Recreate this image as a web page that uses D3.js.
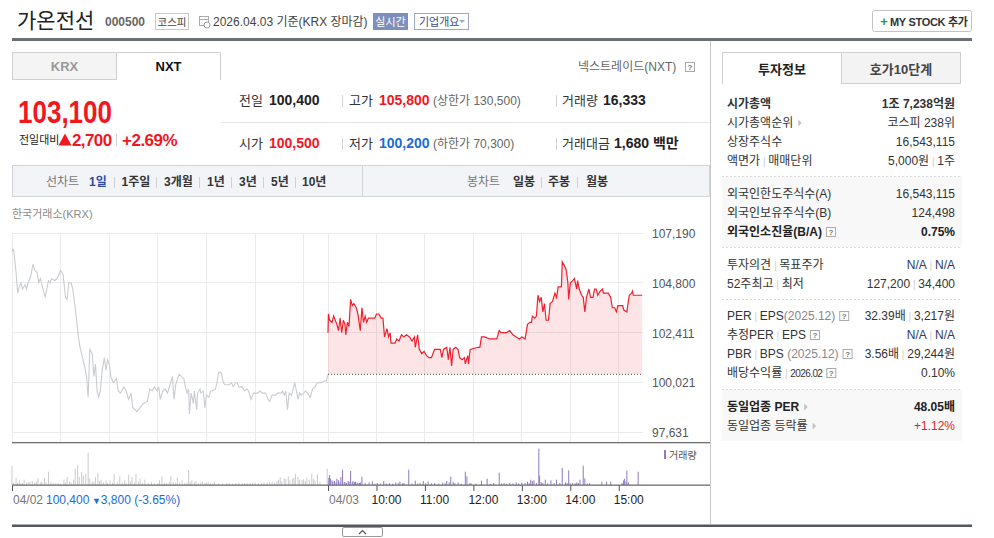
<!DOCTYPE html>
<html><head><meta charset="utf-8">
<script src="https://cdn.jsdelivr.net/npm/d3@7"></script>
<style>body{margin:0;background:#fff}svg{display:block}</style>
</head><body>
<svg id="c" width="994" height="538"></svg>
<script>
// ---------- DATA ----------
const prevClose = 100400;
const priceTicks = [97631, 100021, 102411, 104800, 107190];
const axisTicks = [0, 390, 450, 510, 570, 630, 690, 750];
const axisLabels = ["04/02", "04/03", "10:00", "11:00", "12:00", "13:00", "14:00", "15:00"];
// 04/02 (minutes after 09:00, price)
const prevDay = [[0,106300],[1,106400],[2,106400],[5,105300],[7,104300],[9,104600],[11,104800],[13,104500],[16,104700],[18,104500],[20,104800],[23,105100],[24,105300],[26,105700],[28,105400],[31,105300],[33,104800],[35,105000],[37,104700],[41,104100],[43,104500],[45,104900],[47,104800],[49,105000],[53,104900],[57,105100],[60,105400],[63,105200],[66,104100],[68,104000],[70,104800],[73,104800],[75,104500],[78,103600],[80,102900],[82,102200],[84,101700],[87,101200],[89,100900],[92,100300],[94,99300],[96,101600],[99,101400],[101,100300],[103,100900],[105,99600],[107,99300],[109,99600],[111,100500],[114,101200],[116,100600],[118,101100],[120,100900],[122,100300],[125,100000],[129,100200],[131,99600],[134,99500],[138,99800],[141,99600],[144,99200],[147,99500],[149,98800],[152,98700],[154,98600],[158,98800],[162,99000],[167,99100],[170,99700],[173,99600],[176,99800],[179,99600],[181,99800],[183,99200],[186,99600],[189,99700],[192,99500],[195,99900],[198,100300],[200,99200],[202,99900],[206,100400],[209,100300],[212,100200],[214,99800],[216,99500],[218,99700],[219,98500],[221,99500],[224,99000],[225,99600],[228,98700],[229,99500],[232,99700],[233,99500],[236,99600],[238,98800],[240,99400],[243,99300],[245,99600],[247,99600],[251,99700],[253,100000],[255,100500],[258,100500],[261,100000],[263,99900],[268,99900],[271,100000],[273,99800],[276,100000],[278,100000],[280,99800],[284,99800],[287,99600],[290,99700],[292,99600],[295,99200],[298,99500],[303,99500],[306,99600],[309,99500],[313,99500],[316,99200],[318,99100],[321,99400],[325,99400],[328,99500],[332,99500],[334,99600],[336,99400],[338,99600],[340,98700],[342,99500],[345,99400],[347,99700],[349,100000],[351,99600],[353,99200],[355,99500],[357,99400],[360,99500],[362,99600],[365,99500],[368,99300],[371,99700],[374,99800],[377,100000],[381,100000],[388,100100],[390,100400]];
// 04/03 (minutes after 09:00, price)
const today = [[0,102400],[0.5,103300],[2,103000],[5,102900],[7,103200],[9,103000],[11,102800],[13,102500],[15,103100],[17,102400],[19,103000],[21,102800],[22,102300],[24,102900],[26,102700],[28,104000],[30,103700],[32,103800],[35,103600],[37,103300],[40,102500],[42,103600],[44,102900],[46,103200],[48,102900],[50,103100],[54,103100],[58,103100],[60,103300],[63,103300],[66,103100],[68,103100],[70,102200],[73,102600],[75,102200],[77,102400],[78,101900],[83,101900],[85,102100],[88,102000],[91,102300],[94,102200],[97,102300],[101,102200],[104,102000],[107,102200],[108,101700],[111,102300],[113,101600],[116,101400],[119,101500],[122,101300],[125,101200],[128,101200],[132,101600],[139,101600],[141,101200],[143,101600],[147,101700],[149,101100],[151,101700],[153,100800],[155,101600],[158,101700],[161,101600],[163,101200],[166,101100],[169,101200],[170,100900],[173,101300],[174,100900],[176,101600],[186,101700],[188,101700],[190,102200],[194,102200],[200,102100],[202,102100],[209,102100],[212,102500],[214,102400],[216,102400],[221,102400],[225,102500],[229,102300],[233,102200],[237,102100],[240,102200],[244,102100],[247,102800],[250,102900],[252,102900],[253,103200],[256,103100],[258,103200],[260,104200],[262,103900],[264,104100],[266,103400],[268,103800],[270,103000],[273,103000],[275,103800],[278,103900],[281,104300],[283,104100],[285,104600],[289,104600],[290,105800],[293,105600],[295,105400],[297,104800],[298,104000],[300,104800],[303,104900],[305,105000],[308,104500],[309,104900],[311,104500],[314,104200],[316,104100],[318,103400],[320,104100],[323,104500],[325,104100],[328,104100],[330,104500],[332,104500],[334,104200],[337,104400],[340,104500],[341,104300],[347,104300],[350,104100],[352,103600],[355,103600],[357,103400],[359,103700],[365,103700],[366,103500],[370,103400],[373,104200],[376,104300],[377,104400],[378,104200],[384,104200],[389,104200]];
// volume (minute, shares)
const prevVol = [[0,570],[2,80],[5,220],[7,60],[9,140],[11,50],[13,60],[15,160],[18,70],[20,80],[22,90],[25,120],[28,70],[30,100],[32,200],[35,80],[37,100],[40,220],[42,90],[45,400],[48,90],[51,60],[54,50],[57,60],[60,40],[64,160],[66,80],[68,240],[71,100],[73,80],[76,160],[78,490],[81,590],[83,240],[86,390],[88,290],[91,340],[94,970],[96,190],[99,100],[101,80],[103,240],[106,360],[108,120],[110,160],[113,80],[116,140],[118,60],[121,140],[124,70],[126,340],[130,90],[133,260],[136,80],[139,140],[141,70],[144,310],[146,100],[148,240],[151,80],[153,340],[156,90],[158,200],[161,70],[164,160],[168,60],[172,90],[176,50],[180,60],[182,140],[185,260],[188,80],[191,60],[194,100],[196,260],[199,90],[202,70],[204,220],[207,80],[210,140],[213,60],[216,80],[218,440],[220,90],[222,140],[225,80],[227,120],[230,60],[233,80],[235,100],[238,60],[240,70],[242,80],[245,60],[248,50],[250,100],[255,50],[260,40],[265,60],[268,60],[272,50],[276,60],[280,70],[284,50],[287,60],[290,70],[294,60],[297,70],[300,80],[304,60],[308,70],[311,80],[315,70],[318,90],[321,100],[324,80],[327,120],[329,160],[331,240],[333,120],[336,200],[338,180],[341,260],[343,140],[346,190],[348,220],[350,340],[353,240],[355,160],[358,140],[360,180],[362,120],[364,220],[367,160],[370,340],[372,180],[374,140],[377,320],[380,100],[389,490]];
const todayVol = [[1,220],[2,300],[3,190],[5,140],[6,100],[8,120],[10,80],[11,190],[13,140],[15,90],[16,240],[18,460],[20,80],[21,90],[23,60],[25,120],[26,100],[28,420],[30,80],[31,120],[33,90],[34,100],[36,70],[37,60],[39,60],[40,80],[42,250],[46,60],[51,80],[55,110],[58,40],[61,60],[65,40],[69,120],[72,50],[76,60],[80,40],[84,80],[87,50],[89,100],[92,50],[94,60],[100,460],[104,40],[108,130],[111,40],[114,60],[118,120],[121,50],[124,110],[128,50],[132,60],[137,40],[142,70],[145,50],[147,120],[150,80],[152,250],[155,100],[157,60],[161,80],[165,40],[170,400],[172,260],[175,50],[177,60],[183,40],[190,130],[197,190],[201,40],[205,60],[212,370],[215,50],[218,60],[221,40],[225,60],[229,50],[233,80],[236,50],[240,70],[244,60],[247,100],[249,60],[251,160],[253,120],[255,140],[258,60],[261,1090],[262,280],[264,80],[266,60],[269,160],[272,50],[276,140],[280,60],[283,160],[287,60],[290,520],[294,80],[296,60],[298,440],[300,50],[303,60],[306,50],[308,80],[310,60],[312,160],[316,580],[318,200],[321,50],[324,60],[339,100],[345,100],[350,100],[364,60],[366,140],[367,190],[369,100],[370,430],[372,80],[384,400]];

// ---------- HELPERS ----------
const FONT = "'Liberation Sans', Arial, 'Noto Sans CJK KR', sans-serif";
const svg = d3.select("#c").attr("font-family", FONT);
const RED = "#f2161f", BLUE = "#1d6bd6";
function txt(x, y, s, o = {}) {
  const t = svg.append("text").attr("x", x).attr("y", y).text(s)
    .attr("font-size", o.size || 12).attr("fill", o.fill || "#333");
  if (o.weight) t.attr("font-weight", o.weight);
  if (o.anchor) t.attr("text-anchor", o.anchor);
  if (o.ls) t.attr("letter-spacing", o.ls);
  if (o.len) t.attr("textLength", o.len).attr("lengthAdjust", "spacingAndGlyphs");
  return t;
}
function rich(x, y, parts, o = {}) {
  const t = svg.append("text").attr("x", x).attr("y", y)
    .attr("font-size", o.size || 12).attr("fill", o.fill || "#333");
  if (o.anchor) t.attr("text-anchor", o.anchor);
  if (o.weight) t.attr("font-weight", o.weight);
  parts.forEach(p => {
    const s = t.append("tspan").text(p[0]);
    const st = p[1] || {};
    if (st.fill) s.attr("fill", st.fill);
    if (st.size) s.attr("font-size", st.size);
    if (st.weight) s.attr("font-weight", st.weight);
    if (st.ls) s.attr("letter-spacing", st.ls);
  });
  return t;
}
function line(x1, y1, x2, y2, c, w = 1, dash) {
  const l = svg.append("line").attr("x1", x1).attr("y1", y1).attr("x2", x2).attr("y2", y2)
    .attr("stroke", c).attr("stroke-width", w);
  if (dash) l.attr("stroke-dasharray", dash);
  return l;
}
function qbox(x, y) {
  svg.append("rect").attr("x", x + 0.5).attr("y", y + 0.5).attr("width", 9).attr("height", 9)
    .attr("fill", "#fff").attr("stroke", "#a9a9a9");
  txt(x + 5, y + 8, "?", {size: 8, fill: "#777", anchor: "middle", weight: "bold"});
}
function after(t, gap) { return (+t.attr("x")) + t.node().getComputedTextLength() + gap; }
function tri(x, y) {
  svg.append("path").attr("d", `M${x},${y - 3.5}L${x + 3.5},${y}L${x},${y + 3.5}Z`).attr("fill", "#c3c3c3");
}
const SEP = ["  |  ", {fill: "#d0d0d0", size: 10}];

// ---------- HEADER ----------
txt(17, 28, "가온전선", {size: 21, fill: "#222"});
txt(105, 26, "000500", {size: 12, fill: "#666", weight: "bold"});
svg.append("rect").attr("x", 155.5).attr("y", 13.5).attr("width", 33).attr("height", 16).attr("fill", "#fff").attr("stroke", "#c9c9c9");
txt(172, 25.5, "코스피", {size: 10.5, fill: "#444", anchor: "middle"});
svg.append("rect").attr("x", 199.5).attr("y", 16.5).attr("width", 9).attr("height", 9).attr("fill", "#fff").attr("stroke", "#aaa");
line(199.5, 19.5, 208.5, 19.5, "#aaa");
svg.append("circle").attr("cx", 207).attr("cy", 25).attr("r", 3).attr("fill", "#fff").attr("stroke", "#999");
txt(213, 26, "2026.04.03 기준(KRX 장마감)", {size: 12, fill: "#444"});
svg.append("rect").attr("x", 373).attr("y", 13).attr("width", 35).attr("height", 17).attr("fill", "#7d8fbd");
txt(390.5, 25.5, "실시간", {size: 11, fill: "#fff", anchor: "middle"});
svg.append("rect").attr("x", 414.5).attr("y", 13.5).attr("width", 54).attr("height", 16).attr("fill", "#fff").attr("stroke", "#9ba7c6");
txt(419, 25.5, "기업개요", {size: 11, fill: "#3d4e86"});
svg.append("path").attr("d", "M459,20L465,20L462,23Z").attr("fill", "#9ba7c6");
svg.append("rect").attr("x", 872.5).attr("y", 10.5).attr("width", 99).attr("height", 21).attr("rx", 2).attr("fill", "#fff").attr("stroke", "#c4c4c4");
txt(884, 25.5, "+", {size: 13, fill: "#2a9a3a", weight: "bold", anchor: "middle"});
txt(890, 25.5, "MY STOCK 추가", {size: 11, fill: "#333", weight: "bold", ls: -0.3});
svg.append("rect").attr("x", 12).attr("y", 38).attr("width", 960).attr("height", 3).attr("fill", "#6c7075");

// ---------- LEFT: tabs & quote ----------
svg.append("rect").attr("x", 12.5).attr("y", 52.5).attr("width", 104).attr("height", 27).attr("fill", "#f4f4f4").attr("stroke", "#cfcfcf");
svg.append("path").attr("d", "M116.5,80V52.5H220.5V80").attr("fill", "#fff").attr("stroke", "#cfcfcf");
txt(64.5, 71, "KRX", {size: 13, fill: "#999", weight: "bold", anchor: "middle"});
txt(168.5, 71, "NXT", {size: 13, fill: "#111", weight: "bold", anchor: "middle"});
txt(578, 71, "넥스트레이드(NXT)", {size: 12, fill: "#666"});
qbox(685, 62);

txt(18, 123, "103,100", {size: 31, fill: RED, weight: "bold", len: 94});
txt(19, 144, "전일대비", {size: 11, fill: "#222"});
svg.append("path").attr("d", "M58.5,145.5L71.5,145.5L65,133.5Z").attr("fill", RED);
txt(72, 146, "2,700", {size: 17, fill: RED, weight: "bold", ls: -0.6});
line(116.5, 134, 116.5, 146, "#d4d4d4");
txt(122, 146, "+2.69%", {size: 17, fill: RED, weight: "bold", ls: -0.5});

line(221, 122.5, 710, 122.5, "#e6e6e6");
// row 1
txt(239, 105, "전일", {size: 13, fill: "#333"});
txt(269, 105, "100,400", {size: 14, fill: "#222", weight: "bold"});
line(342.5, 95, 342.5, 107, "#d4d4d4");
txt(349, 105, "고가", {size: 13, fill: "#333"});
txt(379, 105, "105,800", {size: 14, fill: RED, weight: "bold"});
txt(433, 105, "(상한가 130,500)", {size: 12, fill: "#666"});
line(556.5, 95, 556.5, 107, "#d4d4d4");
txt(562, 105, "거래량", {size: 13, fill: "#333"});
txt(603, 105, "16,333", {size: 14, fill: "#222", weight: "bold"});
// row 2
txt(239, 148, "시가", {size: 13, fill: "#333"});
txt(269, 148, "100,500", {size: 14, fill: RED, weight: "bold"});
line(342.5, 138, 342.5, 150, "#d4d4d4");
txt(349, 148, "저가", {size: 13, fill: "#333"});
txt(379, 148, "100,200", {size: 14, fill: BLUE, weight: "bold"});
txt(433, 148, "(하한가 70,300)", {size: 12, fill: "#666"});
line(556.5, 138, 556.5, 150, "#d4d4d4");
txt(562, 148, "거래대금", {size: 13, fill: "#333"});
txt(614, 148, "1,680 백만", {size: 14, fill: "#222", weight: "bold"});

// period bar
svg.append("rect").attr("x", 12.5).attr("y", 165.5).attr("width", 697).attr("height", 31).attr("fill", "#f3f4f8").attr("stroke", "#d3d4d8");
line(362.5, 166, 362.5, 196, "#d3d4d8");
txt(46, 186, "선차트", {size: 12, fill: "#777"});
txt(89, 186, "1일", {size: 12, fill: "#2b4da0", weight: "bold"});
const periods = [["1주일", 121.5], ["3개월", 164], ["1년", 207], ["3년", 239], ["5년", 271], ["10년", 302]];
const pseps = [114.5, 156.5, 199.5, 231.5, 263.5, 295.5];
periods.forEach(p => txt(p[1], 186, p[0], {size: 12, fill: "#333", weight: "bold"}));
pseps.forEach(x => line(x, 177, x, 188, "#cfcfcf"));
txt(467, 186, "봉차트", {size: 12, fill: "#777"});
[["일봉", 513], ["주봉", 548], ["월봉", 586]].forEach(p => txt(p[1], 186, p[0], {size: 12, fill: "#333", weight: "bold"}));
[541.5, 577.5].forEach(x => line(x, 177, x, 188, "#cfcfcf"));
txt(12, 218, "한국거래소(KRX)", {size: 11, fill: "#8a8a8a"});

// ---------- CHART ----------
const x = d3.scaleLinear().domain([0, 390, 780]).range([12, 328, 643]);
const y = d3.scaleLinear().domain([97631, 107190]).range([432, 233]);
const yv = d3.scaleLinear().domain([0, 1200]).range([485, 445]);

const grid = svg.append("g").attr("stroke", "#ebebeb").attr("shape-rendering", "crispEdges");
priceTicks.forEach(v => grid.append("line").attr("x1", 12).attr("x2", 643).attr("y1", y(v)).attr("y2", y(v)));
const vgrid = d3.range(0, 361, 60).concat([390]).concat(d3.range(450, 751, 60));
vgrid.forEach(m => grid.append("line").attr("x1", x(m)).attr("x2", x(m)).attr("y1", 233).attr("y2", 442));

const todayX = today.map(d => [d[0] + 390, d[1]]);
svg.append("path").datum(todayX)
  .attr("d", d3.area().x(d => x(d[0])).y0(y(prevClose)).y1(d => y(d[1])))
  .attr("fill", "rgba(240,40,60,0.12)");
svg.append("path").datum(prevDay)
  .attr("d", d3.line().x(d => x(d[0])).y(d => y(d[1])))
  .attr("fill", "none").attr("stroke", "#c9ccd1").attr("stroke-width", 1.1);
svg.append("path").datum(todayX)
  .attr("d", d3.line().x(d => x(d[0])).y(d => y(d[1])))
  .attr("fill", "none").attr("stroke", "#f0212d").attr("stroke-width", 1.2);
line(x(390), y(prevClose), x(todayX[todayX.length - 1][0]), y(prevClose), "#555", 1, "1,2");

// y axis
const ya = svg.append("g").attr("transform", "translate(649,0)")
  .call(d3.axisRight(y).tickValues(priceTicks).tickSize(0).tickPadding(3).tickFormat(d3.format(",")));
ya.select(".domain").remove();
ya.selectAll("text").attr("font-size", 12).attr("fill", "#555").attr("font-family", FONT).attr("dy", "0.38em");

// frame line
svg.append("rect").attr("x", 12).attr("y", 442).attr("width", 698).attr("height", 1.3).attr("fill", "#6f6f6f");

// volume
svg.append("g").selectAll("rect").data(prevVol).join("rect")
  .attr("x", d => x(d[0]) - 0.5).attr("width", 1).attr("y", d => yv(d[1])).attr("height", d => 485 - yv(d[1]))
  .attr("fill", "#c9cbce");
svg.append("g").selectAll("rect").data(todayVol).join("rect")
  .attr("x", d => x(d[0] + 390) - 0.5).attr("width", 1).attr("y", d => yv(d[1])).attr("height", d => 485 - yv(d[1]))
  .attr("fill", "#8f78c9");
svg.append("rect").attr("x", 664).attr("y", 450).attr("width", 2).attr("height", 9).attr("fill", "#8f78c9");
txt(669, 459, "거래량", {size: 10, fill: "#555"});

// x axis
const xa = svg.append("g").attr("transform", "translate(0,485)")
  .call(d3.axisBottom(x).tickValues(axisTicks).tickSize(6).tickPadding(4)
    .tickFormat((d, i) => axisLabels[i]));
xa.select(".domain").remove();
xa.selectAll("line").attr("stroke", "#555");
xa.selectAll("text").attr("font-size", 12).attr("font-family", FONT).attr("text-anchor", "start")
  .attr("fill", (d, i) => i < 2 ? "#777" : "#222")
  .attr("dx", (d, i) => i < 2 ? 0.5 : -5.5);
svg.append("rect").attr("x", 12).attr("y", 484.5).attr("width", 698).attr("height", 1.3).attr("fill", "#6f6f6f");
rich(46, 504, [["100,400"], [" ▼", {size: 9}], ["3,800 (-3.65%)"]], {size: 12, fill: BLUE});

// bottom
svg.append("rect").attr("x", 12).attr("y", 524.5).attr("width", 960).attr("height", 2.5).attr("fill", "#55595e");
svg.append("rect").attr("x", 342.5).attr("y", 527.5).attr("width", 40).attr("height", 9).attr("rx", 1.5).attr("fill", "#fff").attr("stroke", "#9a9a9a");
svg.append("path").attr("d", "M359,534L362.5,530.5L366,534").attr("fill", "none").attr("stroke", "#555").attr("stroke-width", 1.2);

// ---------- RIGHT PANEL ----------
line(710.5, 41, 710.5, 524, "#c8c8c8");
svg.append("rect").attr("x", 841.5).attr("y", 52.5).attr("width", 119).attr("height", 31).attr("fill", "#f3f3f3").attr("stroke", "#cfcfcf");
svg.append("path").attr("d", "M722.5,84V52.5H841.5").attr("fill", "none").attr("stroke", "#cfcfcf");
txt(782, 74, "투자정보", {size: 13, fill: "#222", weight: "bold", anchor: "middle"});
txt(901, 74, "호가10단계", {size: 13, fill: "#444", weight: "bold", anchor: "middle"});

svg.append("rect").attr("x", 722).attr("y", 176).attr("width", 240).attr("height", 71).attr("fill", "#f8f8f8");
svg.append("rect").attr("x", 722).attr("y", 389).attr("width", 240).attr("height", 52).attr("fill", "#f8f8f8");
[176.5, 247.5, 299.5, 389.5].forEach(yy => line(722, yy, 962, yy, "#d9d9d9", 1, "2,2"));

const LX = 727, RX = 955;
txt(LX, 108, "시가총액", {size: 12, fill: "#333", weight: "bold"});
txt(RX, 108, "1조 7,238억원", {size: 12, fill: "#333", weight: "bold", anchor: "end"});
const r2 = txt(LX, 127, "시가총액순위", {size: 12, fill: "#333"});
tri(after(r2, 5), 123);
txt(RX, 127, "코스피 238위", {size: 12, fill: "#333", anchor: "end"});
txt(LX, 146, "상장주식수", {size: 12, fill: "#333"});
txt(RX, 146, "16,543,115", {size: 12, fill: "#333", anchor: "end"});
rich(LX, 165, [["액면가"], SEP, ["매매단위"]]);
rich(RX, 165, [["5,000원"], SEP, ["1주"]], {anchor: "end"});

txt(LX, 198, "외국인한도주식수(A)", {size: 12, fill: "#333"});
txt(RX, 198, "16,543,115", {size: 12, fill: "#333", anchor: "end"});
txt(LX, 217, "외국인보유주식수(B)", {size: 12, fill: "#333"});
txt(RX, 217, "124,498", {size: 12, fill: "#333", anchor: "end"});
const fr = txt(LX, 236, "외국인소진율(B/A)", {size: 12, fill: "#222", weight: "bold"});
qbox(after(fr, 4), 227);
txt(RX, 236, "0.75%", {size: 12, fill: "#222", weight: "bold", anchor: "end"});

rich(LX, 269, [["투자의견"], SEP, ["목표주가"]]);
rich(RX, 269, [["N/A"], SEP, ["N/A"]], {anchor: "end", fill: "#2d3b63"});
rich(LX, 288, [["52주최고"], SEP, ["최저"]]);
rich(RX, 288, [["127,200"], SEP, ["34,400"]], {anchor: "end"});

const p1 = rich(LX, 320, [["PER"], SEP, ["EPS"], ["(2025.12)", {fill: "#888"}]]);
qbox(after(p1, 4), 311);
rich(RX, 320, [["32.39배"], SEP, ["3,217원"]], {anchor: "end"});
const p2 = rich(LX, 339, [["추정PER"], SEP, ["EPS"]]);
qbox(after(p2, 4), 330);
rich(RX, 339, [["N/A"], SEP, ["N/A"]], {anchor: "end", fill: "#2d3b63"});
const p3 = rich(LX, 358, [["PBR"], SEP, ["BPS "], ["(2025.12)", {fill: "#888"}]]);
qbox(after(p3, 4), 349);
rich(RX, 358, [["3.56배"], SEP, ["29,244원"]], {anchor: "end"});
const p4 = rich(LX, 377, [["배당수익률"], SEP, ["2026.02", {size: 10, ls: -0.6}]]);
qbox(after(p4, 4), 368);
txt(RX, 377, "0.10%", {size: 12, fill: "#333", anchor: "end"});

const s1 = txt(LX, 411, "동일업종 PER", {size: 12, fill: "#222", weight: "bold"});
tri(after(s1, 5), 407);
txt(RX, 411, "48.05배", {size: 12, fill: "#222", weight: "bold", anchor: "end"});
const s2 = txt(LX, 430, "동일업종 등락률", {size: 12, fill: "#333"});
tri(after(s2, 5), 426);
txt(RX, 430, "+1.12%", {size: 12, fill: "#e0242e", anchor: "end"});
</script>
</body></html>
